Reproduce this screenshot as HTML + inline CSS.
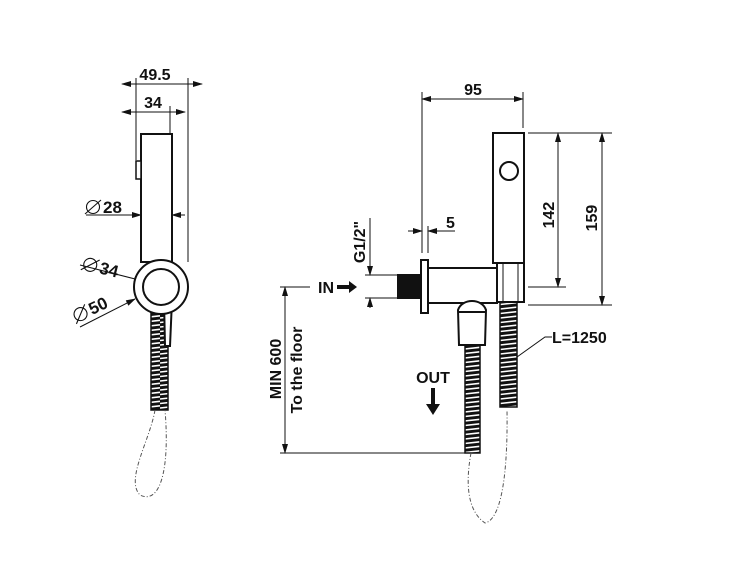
<!DOCTYPE html>
<html><head><meta charset="utf-8"><style>
html,body{margin:0;padding:0;background:#fff;}
svg{display:block;}
text{font-family:"Liberation Sans",Arial,sans-serif;font-weight:bold;fill:#111;}
</style></head><body>
<svg width="750" height="563" viewBox="0 0 750 563" xmlns="http://www.w3.org/2000/svg">
<defs>
<pattern id="hs" width="20" height="4.5" patternUnits="userSpaceOnUse">
<rect width="20" height="4.5" fill="#111"/>
<path d="M0 3 L20 0.8" stroke="#fff" stroke-width="1.6"/>
</pattern>
<marker id="a" markerWidth="10" markerHeight="8" refX="9" refY="4" orient="auto-start-reverse" markerUnits="userSpaceOnUse">
<path d="M0 1 L10 4 L0 7 Z" fill="#111"/>
</marker>
<g id="dia"><circle cx="0" cy="0" r="6.5" fill="none" stroke="#111" stroke-width="1.1"/><line x1="-8" y1="7" x2="8" y2="-7" stroke="#111" stroke-width="1.1"/></g>
</defs>
<g stroke="#111" stroke-width="1" fill="none">
<line x1="122" y1="84" x2="202" y2="84" marker-start="url(#a)" marker-end="url(#a)"/>
<line x1="136" y1="78" x2="136" y2="160"/>
<line x1="188" y1="78" x2="188" y2="262"/>
<line x1="122" y1="112" x2="185" y2="112" marker-start="url(#a)" marker-end="url(#a)"/>
<line x1="170" y1="106" x2="170" y2="134"/>
<line x1="86" y1="215" x2="141" y2="215" marker-end="url(#a)"/>
<line x1="172" y1="215" x2="185" y2="215" marker-start="url(#a)"/>
<line x1="80" y1="265" x2="143" y2="281" marker-end="url(#a)"/>
<line x1="80" y1="327" x2="135" y2="299" marker-end="url(#a)"/>
</g>
<g stroke="#111" stroke-width="2" fill="#fff">
<rect x="151" y="300" width="17" height="110" fill="url(#hs)" stroke-width="1.5"/>
<path d="M164 300 L172 300 L170 346 L165 346 Z"/>
<rect x="141" y="134" width="31" height="128"/>
<path d="M136 161 L141 161 L141 179 L136 179 Z" stroke-width="1.5"/>
<circle cx="161" cy="287" r="27"/>
<circle cx="161" cy="287" r="18"/>
</g>
<path d="M155 410 C150 440,125 480,140 495 C160 505,170 470,165 410" stroke="#555" stroke-width="1" fill="none" stroke-dasharray="4,2,1,2"/>
<text x="155" y="80" font-size="16" text-anchor="middle">49.5</text>
<text x="153" y="108" font-size="16" text-anchor="middle">34</text>
<use href="#dia" x="93" y="207"/>
<text x="103" y="213" font-size="17">28</text>
<g transform="rotate(14 82 269)"><use href="#dia" x="89" y="263"/><text x="99" y="269" font-size="17">34</text></g>
<g transform="rotate(-26 76 323)"><use href="#dia" x="84" y="317"/><text x="94" y="323" font-size="17">50</text></g>

<g stroke="#111" stroke-width="1" fill="none">
<line x1="422" y1="99" x2="523" y2="99" marker-start="url(#a)" marker-end="url(#a)"/>
<line x1="422" y1="92" x2="422" y2="253"/>
<line x1="523" y1="92" x2="523" y2="128"/>
<line x1="408" y1="231" x2="422" y2="231" marker-end="url(#a)"/>
<line x1="428" y1="231" x2="455" y2="231" marker-start="url(#a)"/>
<line x1="428" y1="226" x2="428" y2="253"/>
<line x1="370" y1="218" x2="370" y2="275" marker-end="url(#a)"/>
<line x1="370" y1="298" x2="370" y2="308" marker-start="url(#a)"/>
<line x1="365" y1="275" x2="398" y2="275"/>
<line x1="365" y1="298" x2="398" y2="298"/>
<line x1="528" y1="133" x2="612" y2="133"/>
<line x1="528" y1="287" x2="566" y2="287"/>
<line x1="528" y1="305" x2="612" y2="305"/>
<line x1="558" y1="133" x2="558" y2="287" marker-start="url(#a)" marker-end="url(#a)"/>
<line x1="602" y1="133" x2="602" y2="305" marker-start="url(#a)" marker-end="url(#a)"/>
<line x1="280" y1="287" x2="310" y2="287"/>
<line x1="280" y1="453" x2="466" y2="453"/>
<line x1="285" y1="287" x2="285" y2="453" marker-start="url(#a)" marker-end="url(#a)"/>
<polyline points="517,357 545,337 552,337"/>
</g>
<g stroke="#111" stroke-width="2" fill="#fff">
<rect x="465" y="345" width="15" height="108" fill="url(#hs)" stroke-width="1.5"/>
<rect x="500" y="302" width="17" height="105" fill="url(#hs)" stroke-width="1.5"/>
<rect x="427" y="268" width="70" height="35"/>
<rect x="421" y="260" width="7" height="53"/>
<rect x="398" y="275" width="23" height="23" fill="#111"/>
<path d="M459 345 L458 310 C462 298,482 298,486 310 L485 345 Z"/>
<line x1="459" y1="312" x2="485" y2="312"/>
<rect x="497" y="263" width="27" height="39"/>
<line x1="503" y1="263" x2="503" y2="302" stroke-width="1"/>
<line x1="518" y1="263" x2="518" y2="302" stroke-width="1"/>
<rect x="493" y="133" width="31" height="130"/>
<circle cx="509" cy="171" r="9"/>
</g>
<path d="M471 453 C466 480,466 510,485 523 C500 520,508 480,507 410" stroke="#555" stroke-width="1" fill="none" stroke-dasharray="4,2,1,2"/>
<path d="M337 285 L349 285 L349 281 L357 287 L349 293 L349 289 L337 289 Z" fill="#111"/>
<path d="M431 388 L435 388 L435 404 L440 404 L433 415 L426 404 L431 404 Z" fill="#111"/>
<text x="473" y="95" font-size="16" text-anchor="middle">95</text>
<text x="446" y="228" font-size="16">5</text>
<text x="365" y="242" font-size="16" text-anchor="middle" transform="rotate(-90 365 242)">G1/2"</text>
<text x="318" y="293" font-size="16">IN</text>
<text x="554" y="215" font-size="16" text-anchor="middle" transform="rotate(-90 554 215)">142</text>
<text x="597" y="218" font-size="16" text-anchor="middle" transform="rotate(-90 597 218)">159</text>
<text x="552" y="343" font-size="16">L=1250</text>
<text x="433" y="383" font-size="16" text-anchor="middle">OUT</text>
<text x="281" y="369" font-size="16" text-anchor="middle" transform="rotate(-90 281 369)">MIN 600</text>
<text x="302" y="370" font-size="16" text-anchor="middle" transform="rotate(-90 302 370)">To the floor</text>
</svg>
</body></html>
